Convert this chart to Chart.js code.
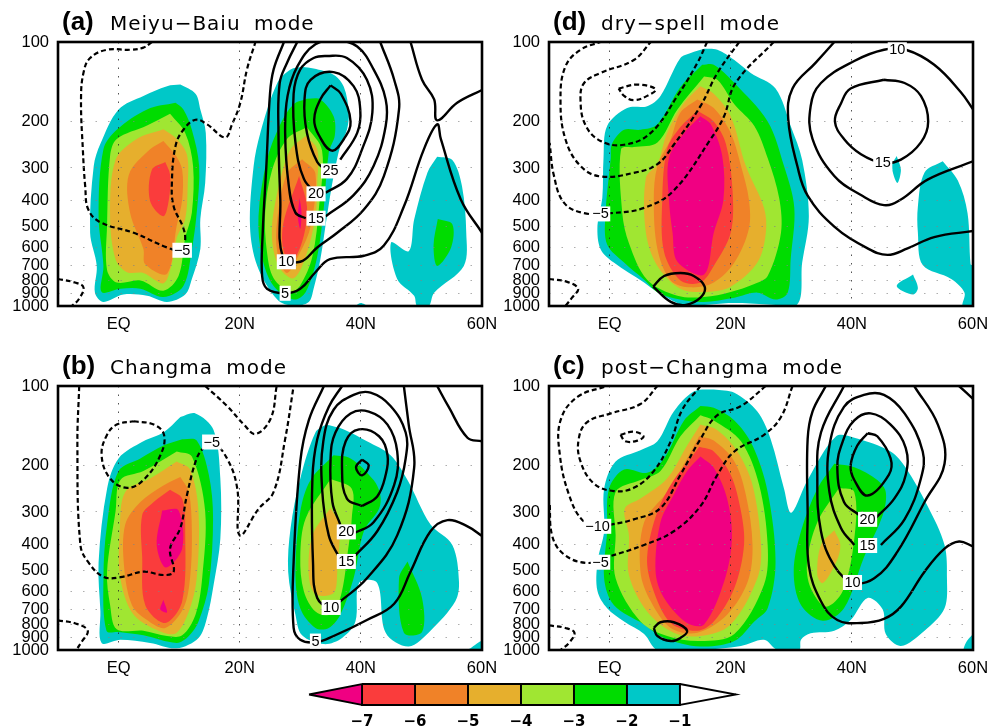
<!DOCTYPE html>
<html><head><meta charset="utf-8">
<script src="https://cdn.jsdelivr.net/npm/chart.js@4"></script>
<style>html,body{margin:0;padding:0;background:#fff;width:1002px;height:727px;overflow:hidden}canvas{position:absolute}</style>
</head><body>
<canvas id="pa" width="500" height="340" style="left:0;top:0"></canvas>
<canvas id="pd" width="500" height="340" style="left:491px;top:0"></canvas>
<canvas id="pb" width="500" height="340" style="left:0;top:344px"></canvas>
<canvas id="pc" width="500" height="340" style="left:491px;top:344px"></canvas>
<canvas id="bar" width="460" height="57" style="left:290px;top:670px"></canvas>
<script>
// Axis ticks
const lonTicks=[0,20,40,60];
const lonLabels=['EQ','20N','40N','60N'];
const presTicks=[100,200,300,400,500,600,700,800,900,1000];
// Colour scale
const barLevels=[-7,-6,-5,-4,-3,-2,-1];
const barTips=[-8,0.06];
const barLabels=['−7','−6','−5','−4','−3','−2','−1'];
const MAG='#f00082',RED='#fa3c3c',ORA='#f08228',GOL='#e6af2d',LIM='#a0e632',GRN='#00dc00',TEA='#00c8c8';
const barColors=[MAG,RED,ORA,GOL,LIM,GRN,TEA,'#ffffff'];

// Panel (a): [lon, hPa]
const aTeal1=[[10.2,145],[12.7,157],[13.5,180],[14.4,221],[14.3,342],[13.5,468],[13.5,608],[12.1,790],[11,905],[8,965],[4.7,915],[.8,905],[-2.5,965],[-3.9,890],[-3.6,705],[-4.7,528],[-4.1,295],[-3,243],[0,180],[4.1,160],[8,147]];
const aGreen1=[[9.4,170],[10.7,180],[12.1,215],[13.3,295],[12.9,443],[12.1,608],[10.7,840],[7.4,925],[3.6,860],[.3,860],[-2.8,885],[-2.5,705],[-3.3,457],[-2.5,255],[-.3,215],[4.7,180]];
const aLime1=[[8.5,187],[11,221],[12.3,295],[12.1,443],[11,552],[9.9,770],[7.4,875],[3.6,800],[-.3,815],[-1.9,730],[-1.9,495],[-1.4,270],[-.3,233],[4.7,207]];
const aGold1=[[7.4,214],[9.6,233],[11.3,268],[11.4,355],[11,468],[9.6,552],[8.8,690],[7.4,820],[4.1,750],[1.4,745],[-.5,665],[-1.4,457],[-.5,280],[3,233]];
const aOrange1=[[7.4,237],[9.4,268],[10.5,305],[10.5,396],[9.6,497],[8,755],[4.4,695],[4.1,608],[1.9,443],[1.7,318],[5.2,255]];
const aRed1=[[7.7,285],[8.5,318],[8.3,396],[7.4,457],[5.2,400],[5.5,305]];
const aTeal2=[[30.3,124],[32.2,126],[35.5,133],[37.2,148],[38,185],[37.7,215],[36.6,248],[35.5,322],[34.4,457],[33.3,668],[32.2,860],[31.4,965],[28.9,1000],[26.2,945],[22.9,705],[21.7,500],[22.3,295],[23.4,221],[26.2,143],[28.4,127]];
const aGreen2=[[31.1,164],[33.3,165],[35.5,191],[35.7,226],[34.7,262],[33.9,420],[32.8,650],[30.9,885],[28.9,945],[25.6,840],[23.7,655],[23.1,457],[24.5,280],[26.7,205],[28.9,172]];
const aLime2=[[31.1,210],[33.6,258],[33.1,420],[32,650],[30,835],[28.4,885],[25.6,785],[24.5,625],[24.2,443],[25.3,308],[27.8,233]];
const aGold2=[[30.9,227],[32.8,255],[32.8,342],[32.5,457],[30.9,650],[28.9,785],[26.4,705],[25.3,528],[26.4,355],[28.4,255]];
const aOrange2=[[30.3,278],[32.5,315],[31.7,500],[30,625],[27.8,750],[26.2,625],[26.2,470],[27.8,315]];
const aRed2=[[29.8,322],[31.1,420],[30.6,540],[28.9,665],[27.3,625],[27.2,487]];
const aMag2=[[29.9,390],[30.2,443],[30,510],[29.6,457]];
const aTeal3=[[52.6,272],[55.1,280],[56.7,352],[57.4,528],[57,705],[52.1,890],[51.2,1000],[49.3,1000],[48.8,915],[46,790],[45,575],[47.9,620],[48.8,470],[51,312]];
const aGreen3=[[52.7,468],[55.1,490],[54.9,600],[52.6,705],[52,590]];
const aTeal4=[[39.1,1000],[40,975],[40.9,1000]];
const aNeg5=[[5.5,100],[4.1,105],[1.9,107],[-1.9,107],[-4.7,115],[-5.8,131],[-6.2,165],[-5.9,255],[-5.5,354],[-5,431],[-3,482],[2.5,528],[8,600],[10.5,615],[11,558],[10.6,500],[9.1,420],[8.8,342],[9.4,248],[10.7,215],[12.7,197],[14.6,205],[17.6,230],[18.7,206],[20.1,170],[21.2,127],[22.6,100]];
const aNegCorner=[[-10,790],[-7.2,815],[-5.8,850],[-6.6,945],[-7.7,1000]];
const aPos5=[[27.3,100],[25.6,127],[25,157],[24.4,295],[23.8,528],[23.7,770],[24.5,860],[27.5,895],[30,860],[32.5,745],[34.9,665],[40.5,645],[43.8,590],[47.1,420],[50.4,255],[52.6,205],[53.2,233],[56.5,395],[60,528]];
const aPos5b=[[48.2,100],[50.1,139],[52.1,165],[52.6,198],[55.9,170],[60,152]];
const aPos10=[[29.5,100],[27.8,120],[26.6,143],[26.4,221],[26.7,395],[27.1,650],[30,680],[32.8,600],[36.1,528],[40.5,431],[43.8,322],[46.3,180],[45.5,139],[43.2,100]];
const aPos15=[[30.9,465],[29.2,443],[28.1,350],[27.5,221],[27.9,160],[29.5,124],[32.5,102],[36.1,99],[39.4,104],[42.1,127],[44.1,165],[44.1,208],[42.1,295],[38.8,380],[34.2,457]];
const aPos20=[[32.8,378],[30.6,330],[29.2,240],[28.9,157],[30,127],[32.2,115],[34.4,113],[37.7,115],[41,139],[41.9,185],[40.2,255],[37.7,330],[34.2,372]];
const aPos25=[[34.2,305],[32.8,285],[31.1,221],[30.7,165],[31.7,139],[35.5,130],[38.8,147],[39.9,180],[39.4,221],[36.6,279]];
const aPos30=[[35,146],[36.7,157],[38.3,200],[37.2,233],[35.2,258],[33.1,226],[32.3,197],[33.3,165],[35,146]];
const aLabels=[['−5',10.5,615],['25',35,308],['20',32.6,376],['15',32.6,465],['10',27.7,680],['5',27.5,895]];

// Panel (d)
const dTeal1=[[15.6,106],[17.8,107],[20.6,117],[23.3,131],[27.4,150],[29.9,208],[31.8,280],[32.9,457],[31.8,685],[30.7,1000],[20.6,975],[12.8,1000],[7.9,885],[5.7,815],[.7,685],[-1.5,608],[-2,495],[-1.2,390],[-1,275],[-.4,208],[2.9,178],[6.2,175],[8.4,160],[11.7,115],[13.4,110]];
const dGreen1=[[15.3,122],[17.2,122],[20.6,143],[26.1,200],[28.8,295],[30.5,425],[29.9,665],[29.4,890],[27.4,945],[24.4,890],[20.6,930],[15,965],[8.4,900],[5.7,795],[2.4,685],[-.4,585],[-.7,457],[.2,275],[.4,243],[2.4,215],[5.1,215],[7.9,205],[11.7,148]];
const dLime1=[[15.6,135],[17.8,139],[20.6,172],[23.9,208],[26.1,275],[28,390],[28.3,528],[26.1,770],[23.9,825],[20,885],[15.6,925],[11.2,915],[6.2,795],[3.2,578],[2.1,445],[1.9,255],[4,250],[7.9,240],[11.2,180]];
const dGold1=[[15,147],[17.2,157],[20,191],[22.5,295],[25.5,425],[25.8,528],[24.4,685],[20,845],[15.6,885],[11.7,860],[7.9,705],[6,528],[6,327],[7.9,290],[9.5,221],[12.3,170]];
const dOrange1=[[14.5,165],[17.2,178],[20,221],[21.7,295],[23,395],[23,510],[20.6,685],[17.2,815],[13.4,850],[10.1,800],[7.9,608],[7.3,395],[7.9,295],[10.1,233],[11.7,185]];
const dRed1=[[14.5,182],[17.2,200],[19.2,243],[20.3,365],[20,528],[17.2,705],[15,815],[11.7,800],[9,625],[8.7,395],[9.5,255],[11.7,210]];
const dMag1=[[15,191],[16.7,205],[18.6,270],[18.8,395],[17.2,528],[15.6,760],[11.2,680],[10.4,528],[9.8,395],[9.8,275],[12.3,221]];
const dTeal2=[[55,283],[57.5,335],[59.1,445],[59.6,695],[60,705],[60,1000],[58.3,1000],[58.6,890],[56.4,790],[51.7,700],[50.9,528],[50.9,420],[52,312]];
const dTeal3=[[47.4,270],[48.1,305],[47.5,342],[46.6,295]];
const dTeal4=[[50.1,760],[50.9,855],[50.1,905],[47.4,840]];
const dNegA=[[16.1,100],[14.5,120],[11.2,160],[6.8,221],[2.4,245],[-1.5,237],[-4,206],[-4.8,165],[-4.2,143],[-1.5,131],[4,117],[6.8,100]];
const dNegB=[[21.4,100],[17.8,131],[15,175],[10.6,245],[7.9,290],[4,313],[-1.5,323],[-4.8,295],[-7.3,233],[-8.1,165],[-7.3,124],[-4.8,107],[-1.5,100]];
const dNeg5=[[27.1,100],[20.8,143],[18.9,191],[16.7,233],[10.6,365],[5.7,425],[.2,445],[-4.2,445],[-7.5,407],[-9.2,320],[-9.9,241]];
const dNegSmall=[[1.5,150],[4.6,145],[7.6,151],[6.2,160],[4,166],[2.4,160],[1.5,150]];
const dNegCorner=[[-10,790],[-7,810],[-5.2,860],[-6.2,930],[-7.3,1000]];
const dPosLoop=[[7.2,845],[9,770],[11.7,750],[13.9,770],[15.7,845],[15,930],[12.6,990],[10.1,965],[7.2,845]];
const dPos5=[[37.1,100],[34,120],[30.2,150],[29.5,196],[31,295],[32.7,382],[37.1,500],[42.6,605],[45.9,640],[49.2,605],[53.6,548],[60,520]];
const dPos10=[[60,180],[58,155],[53.6,122],[48.9,107],[45.3,107],[40.4,118],[34.9,143],[33.2,175],[33.5,233],[37.1,322],[41.5,380],[45.3,415],[48.1,395],[52.5,332],[60,283]];
const dPos15=[[45.3,139],[48.7,143],[51.4,160],[52.6,200],[51.4,240],[48.1,279],[45.1,287],[41.5,266],[38.7,233],[37.2,200],[38.2,171],[39.8,150],[45.3,139]];
const dLabels=[['10',47.5,107],['15',45.1,287],['−5',-1.5,448]];

// Panel (b)
const bTeal1=[[10.2,131],[12.7,127],[15.7,147],[16.8,224],[16.8,380],[15.7,565],[14.6,755],[13.2,900],[9.6,985],[5.2,940],[.3,915],[-2.8,940],[-3,715],[-3.3,465],[-1.9,245],[0,188],[4.1,162],[7.4,150]];
const bGreen1=[[10.5,159],[12.9,161],[14.9,217],[15.6,317],[14.9,565],[13.2,780],[11.6,885],[9.6,940],[4.1,880],[0,855],[-2,845],[-2.5,535],[-1.9,335],[0,210],[3.6,188],[7.4,168]];
const bLime1=[[9.6,177],[12.1,185],[14.3,299],[13.8,535],[12.7,735],[10.5,880],[8,885],[4.1,845],[-.3,835],[-1.4,675],[-1.9,505],[-.5,299],[.3,227],[4.1,210]];
const bGold1=[[9.6,193],[11.8,207],[13.2,299],[12.9,535],[11.6,715],[9.6,860],[7.4,860],[2.5,735],[.3,535],[.2,355],[1.1,252],[5.2,224]];
const bOrange1=[[10.2,221],[11.6,252],[12.1,355],[11.8,535],[10.7,695],[7.7,825],[4.7,770],[2.2,675],[.9,480],[1.1,335],[3.6,275],[7.4,238]];
const bRed1=[[8.5,247],[10.5,267],[11,355],[10.5,654],[7.7,790],[4.4,675],[3.9,445],[3.9,308],[5.8,275]];
const bMag1=[[7.2,296],[9.9,296],[10.5,413],[7.8,487],[6.3,400]];
const bMag1b=[[7.4,645],[8,720],[6.9,703]];
const bTeal2=[[34.2,140],[37.2,146],[41,162],[44.9,183],[47.7,227],[51.5,335],[55.1,400],[56.2,552],[55.6,654],[51.5,845],[47.9,970],[44.1,860],[42.7,557],[39.7,557],[39.1,780],[36.9,900],[33.9,950],[30.3,880],[29.2,735],[28,505],[28.4,345],[30,224],[32.5,150]];
const bGreen2=[[35.5,183],[38.3,188],[42.1,227],[43.2,258],[43,292],[40.5,355],[38.8,535],[36.6,735],[34.7,825],[32.5,825],[30,695],[29.2,505],[30,299],[31.7,227]];
const bLime2=[[35,225],[38.5,245],[38.5,317],[38,400],[36.6,635],[34.7,735],[32.5,715],[30.6,600],[30,445],[30.9,317]];
const bGold2=[[35,290],[36.4,335],[36.1,505],[35.5,608],[32.5,615],[31.4,520],[32,368]];
const bGreen3=[[47.7,462],[50.1,635],[50.1,855],[47.1,860],[46.3,535]];
const bTeal3=[[58.1,985],[60,925],[60,1000],[57.6,1000]];
const bNeg5=[[-6.5,100],[-6.8,168],[-6.3,400],[-5,465],[-2.5,528],[.3,530],[4.1,505],[7.4,520],[9.1,505],[8.5,413],[10.2,345],[11.3,258],[12.9,188],[14,172],[15.4,163],[17.9,188],[19.6,245],[20,368],[23.1,292],[25.6,252],[27.5,159],[28.9,100]];
const bNegTop=[[14.3,100],[17.9,119],[20.7,140],[22.6,152],[25.1,133],[26.1,100]];
const bNegLoop=[[2.5,136],[5.8,140],[7.5,153],[6.9,183],[4.1,227],[1.4,243],[-1.4,224],[-2.8,183],[-1.9,153],[-.3,140],[2.5,136]];
const bNegCorner=[[-10,772],[-7,795],[-5.1,845],[-6,925],[-7,1000]];
const bPos5=[[33.9,100],[31.4,135],[30,193],[28.9,465],[28.9,825],[30,915],[32.5,935],[35.5,885],[41,770],[45.5,668],[48.2,505],[51.5,355],[54.3,322],[57.6,340],[60,370]];
const bPos10=[[36.9,100],[34.7,120],[32.8,159],[32,224],[32.1,465],[32.8,635],[35.1,690],[36.6,654],[41,535],[46,368],[48.8,204],[47.9,140],[47.1,100]];
const bPos15=[[36.4,445],[34.7,368],[33.6,245],[33.8,162],[35.5,123],[38.8,108],[41.6,106],[44.9,119],[47.4,150],[47.4,188],[46,252],[42.7,355],[38.8,445]];
const bPos20=[[36.6,335],[35.3,275],[35,188],[35.8,150],[38.3,127],[41.3,125],[44.4,140],[46,177],[45.5,237],[42.1,328],[38.8,362]];
const bPos25=[[40.2,285],[42.7,262],[44.1,217],[44.4,183],[43,155],[39.7,146],[37.5,162],[36.9,210],[37.7,267],[40.2,285]];
const bPos30=[[40.2,190],[41.3,200],[40.2,218],[39.2,203],[40.2,190]];
const bPosCorner=[[52.6,100],[54.5,120],[57.6,157],[60,162]];
const bLabels=[['−5',15.4,163],['20',37.6,357],['15',37.6,462],['10',35.1,690],['5',32.5,925]];

// Panel (c)
const cTeal1=[[17.2,103],[20.6,106],[24.4,125],[26.6,159],[28.8,245],[30,302],[32.7,227],[37.4,155],[40.4,157],[46.4,177],[48.9,204],[52.5,285],[55.3,400],[55.7,535],[55.3,695],[52,845],[48.1,965],[45.6,870],[45.1,703],[42.6,635],[39.8,770],[37.1,845],[33.2,865],[31.6,915],[31.3,1000],[27.7,1000],[25.5,915],[21.7,965],[15,1000],[7.9,1000],[5.7,870],[2.4,780],[-.4,695],[-2,598],[-2,465],[-.9,355],[-.9,245],[1,193],[5.1,175],[7.9,162],[10.6,125],[13.9,105]];
const cTeal2=[[60,870],[59,925],[58.5,1000],[60,1000]];
const cGreen1=[[15,119],[17.2,121],[20.6,135],[23.6,168],[26.1,252],[27.4,465],[26.1,695],[23.9,780],[20.6,925],[15,970],[9,900],[5.7,800],[.7,675],[-.9,535],[-.4,355],[-.1,245],[2.4,207],[6.2,213],[9,188],[12.3,135]];
const cLime1=[[15,129],[17.2,135],[21.7,162],[24.7,237],[26.1,400],[25.5,565],[20.6,870],[15,925],[9.5,885],[5.1,780],[1,535],[1,368],[1,252],[5.1,227],[8.4,210],[11.7,155]];
const cGold1=[[15,140],[17.8,147],[21.1,177],[23.6,237],[25,400],[24.4,535],[20,800],[15,885],[10.6,860],[6.2,715],[3.2,520],[3.2,368],[2.5,292],[5.1,267],[9.5,224],[12.8,168]];
const cOrange1=[[14.8,155],[17.2,161],[20.6,193],[22.5,258],[23.6,400],[22.8,552],[19.4,735],[14.5,860],[10.1,825],[6.8,654],[5.1,505],[5.7,328],[9.5,252],[12.8,188]];
const cRed1=[[14.8,170],[17.2,177],[20,217],[21.7,299],[22.2,400],[20.6,582],[17.2,780],[14.5,845],[10.1,790],[7.1,582],[6.2,445],[7.9,299],[10.6,227],[13.4,188]];
const cMag1=[[15,185],[17.2,204],[19.4,267],[20.2,380],[18.9,552],[15.6,800],[12.8,790],[9,635],[7.6,505],[8.4,328],[10.6,258],[12.8,210]];
const cGreen2=[[37.1,197],[40.4,203],[44.2,227],[45.6,252],[45.1,308],[42,445],[38.7,695],[35.2,775],[31.6,675],[30.4,505],[31.6,355],[34.3,245]];
const cLime2=[[37.9,243],[40.4,252],[40.4,380],[38.5,598],[35.7,685],[33.2,582],[32.6,465],[34.3,328]];
const cGold2=[[37.1,352],[38.1,400],[37.4,465],[35.2,558],[34.3,520],[34.9,400]];
const cNegA=[[15,100],[12,123],[10.1,162],[7.3,210],[4,243],[.7,250],[-2.6,234],[-4.8,193],[-5.1,159],[-3.7,137],[.2,127],[5.1,117],[7.9,100]];
const cNeg10=[[25.8,100],[21.7,119],[17.8,129],[15,159],[11.7,217],[8.4,290],[4,320],[.2,335],[-2,340],[-4.5,322],[-6.7,258],[-8.2,183],[-8.1,135],[-5.3,110],[-.4,100]];
const cNeg5=[[30.2,100],[28.3,131],[25.5,153],[20.6,177],[17.8,217],[15,285],[10.6,355],[5.7,400],[-.4,445],[-3.7,468],[-7.5,435],[-9.5,368],[-9.9,275]];
const cNegSmall=[[1.8,153],[4,149],[5.6,155],[4.6,161],[2.6,162],[1.8,153]];
const cNegCorner=[[-10,807],[-7.3,825],[-5.8,860],[-6.7,940],[-8.1,1000]];
const cPosLoop=[[7.3,825],[8.4,785],[10.6,785],[12.8,845],[11.7,900],[10.1,925],[7.9,885],[7.3,825]];
const cPos5=[[35.7,100],[33.5,125],[32.7,159],[32.7,299],[32.9,480],[34.9,654],[37.6,770],[41.5,790],[45.3,762],[48.1,685],[52,505],[55.3,413],[57.7,388],[60,405]];
const cPos10=[[38.7,100],[34.9,150],[34.3,224],[34.9,355],[37.1,480],[40.1,555],[43.7,535],[47.5,425],[52,275],[55.3,197],[54.2,140],[50.3,100]];
const cPos15=[[40.4,400],[38.2,345],[36.3,252],[36.3,168],[38.7,120],[42,108],[45.3,108],[48.7,127],[51.7,177],[51.4,224],[48.7,320],[44.8,400]];
const cPos20=[[41.2,308],[38.7,275],[37.6,204],[38.5,162],[40.4,135],[43.1,127],[46.4,140],[48.9,172],[48.9,217],[47,267],[44,315]];
const cPos25=[[42.6,151],[44.2,155],[46.4,188],[46.1,217],[42.6,260],[40.4,227],[39.8,200],[40.9,168],[42.6,151]];
const cPosCorner=[[57.7,100],[60,112]];
const cLabels=[['−10',-2,340],['−5',-1.5,465],['20',42.6,320],['15',42.6,402],['10',40.1,555]];

const panels=[
 {id:'pa',tag:'(a)',title:'Meiyu−Baiu mode',labels:aLabels,
  shades:[[TEA,aTeal1],[GRN,aGreen1],[LIM,aLime1],[GOL,aGold1],[ORA,aOrange1],[RED,aRed1],[TEA,aTeal2],[GRN,aGreen2],[LIM,aLime2],[GOL,aGold2],[ORA,aOrange2],[RED,aRed2],[MAG,aMag2],[TEA,aTeal3],[GRN,aGreen3],[TEA,aTeal4]],
  solid:[aPos5,aPos5b,aPos10,aPos15,aPos20,aPos25,aPos30],dashed:[aNeg5,aNegCorner]},
 {id:'pd',tag:'(d)',title:'dry−spell mode',labels:dLabels,
  shades:[[TEA,dTeal1],[GRN,dGreen1],[LIM,dLime1],[GOL,dGold1],[ORA,dOrange1],[RED,dRed1],[MAG,dMag1],[TEA,dTeal2],[TEA,dTeal3],[TEA,dTeal4]],
  solid:[dPosLoop,dPos5,dPos10,dPos15],dashed:[dNegA,dNegB,dNeg5,dNegSmall,dNegCorner]},
 {id:'pb',tag:'(b)',title:'Changma mode',labels:bLabels,
  shades:[[TEA,bTeal1],[GRN,bGreen1],[LIM,bLime1],[GOL,bGold1],[ORA,bOrange1],[RED,bRed1],[MAG,bMag1],[MAG,bMag1b],[TEA,bTeal2],[GRN,bGreen2],[LIM,bLime2],[GOL,bGold2],[GRN,bGreen3],[TEA,bTeal3]],
  solid:[bPos5,bPos10,bPos15,bPos20,bPos25,bPos30,bPosCorner],dashed:[bNeg5,bNegTop,bNegLoop,bNegCorner]},
 {id:'pc',tag:'(c)',title:'post−Changma mode',labels:cLabels,
  shades:[[TEA,cTeal1],[TEA,cTeal2],[GRN,cGreen1],[LIM,cLime1],[GOL,cGold1],[ORA,cOrange1],[RED,cRed1],[MAG,cMag1],[GRN,cGreen2],[LIM,cLime2],[GOL,cGold2]],
  solid:[cPosLoop,cPos5,cPos10,cPos15,cPos20,cPos25,cPosCorner],dashed:[cNegA,cNeg10,cNeg5,cNegSmall,cNegCorner]}
];

const toXY=pts=>pts.map(([x,y])=>({x,y}));
function overlay(p){return{id:'overlay_'+p.id,afterDraw(ch){
  const c=ch.ctx,a=ch.chartArea,X=ch.scales.x,Y=ch.scales.y;
  c.save();
  c.strokeStyle='#000';c.lineWidth=2.6;c.setLineDash([]);
  c.strokeRect(a.left,a.top,a.right-a.left,a.bottom-a.top);
  c.font='14.5px "Liberation Sans"';c.textAlign='center';c.textBaseline='middle';
  p.labels.forEach(([t,lon,pr])=>{
    const x=X.getPixelForValue(lon),y=Y.getPixelForValue(pr),w=c.measureText(t).width+3;
    c.fillStyle='#fff';c.fillRect(x-w/2,y-7.5,w,15);
    c.fillStyle='#000';c.fillText(t,x,y+.5);
  });
  c.textAlign='left';c.textBaseline='alphabetic';c.fillStyle='#000';
  c.font='bold 26px "Liberation Sans"';c.fillText(p.tag,62,30);
  c.font='20px "DejaVu Sans"';c.letterSpacing='1px';c.wordSpacing='6px';
  c.fillText(p.title,110,30);
  c.restore();
}}}

Chart.defaults.font.family='"Liberation Sans"';
Chart.defaults.color='#000';

panels.forEach(p=>{
  const ds=[];
  p.shades.forEach(([col,pts])=>ds.push({data:toXY(pts.concat([pts[0]])),showLine:true,fill:'shape',backgroundColor:col,borderWidth:0,borderColor:col,tension:.33,pointRadius:0}));
  p.solid.forEach(pts=>ds.push({data:toXY(pts),showLine:true,fill:false,borderColor:'#000',borderWidth:2.4,tension:.4,pointRadius:0}));
  p.dashed.forEach(pts=>ds.push({data:toXY(pts),showLine:true,fill:false,borderColor:'#000',borderWidth:2.2,borderDash:[5,3],tension:.4,pointRadius:0}));
  ds.forEach((d,i)=>d.order=ds.length-i);
  new Chart(document.getElementById(p.id),{type:'scatter',data:{datasets:ds},plugins:[overlay(p)],options:{
    responsive:false,animation:false,events:[],
    layout:{padding:{top:42,right:18,left:0,bottom:0}},
    plugins:{legend:{display:false},tooltip:{enabled:false},title:{display:false}},
    scales:{
      x:{type:'linear',min:-10,max:60,
        afterBuildTicks(s){s.ticks=lonTicks.map(value=>({value}))},
        afterFit(s){s.height=34;s.paddingRight=0;s.paddingLeft=0},
        ticks:{autoSkip:false,maxRotation:0,padding:9,font:{size:16.5},callback:v=>lonLabels[lonTicks.indexOf(v)]},
        grid:{z:1,drawTicks:false,color:'rgba(40,40,40,.8)',lineWidth:1},
        border:{display:false,dash:[1.5,7]}},
      y:{type:'logarithmic',reverse:true,min:100,max:1000,
        afterBuildTicks(s){s.ticks=presTicks.map(value=>({value}))},
        afterFit(s){s.width=58},
        ticks:{autoSkip:false,padding:9,font:{size:16.5},callback:v=>String(v)},
        grid:{z:1,drawTicks:false,color:'rgba(130,130,130,.65)',lineWidth:1},
        border:{display:false,dash:[1.5,11]}}
    }}});
});

// Colour bar
const edges=[barTips[0],...barLevels,barTips[1]];
const barSets=barColors.map((col,i)=>{
  const lo=edges[i],hi=edges[i+1];
  const pts=i===0?[[lo,0],[hi,1],[hi,-1],[lo,0]]:i===barColors.length-1?[[lo,1],[hi,0],[lo,-1],[lo,1]]:[[lo,1],[hi,1],[hi,-1],[lo,-1],[lo,1]];
  return{data:toXY(pts),showLine:true,fill:'shape',backgroundColor:col,borderColor:'#000',borderWidth:1.8,tension:0,pointRadius:0,clip:false};
});
new Chart(document.getElementById('bar'),{type:'scatter',data:{datasets:barSets},options:{
  responsive:false,animation:false,events:[],
  layout:{padding:{top:14,right:14,left:19,bottom:0}},
  plugins:{legend:{display:false},tooltip:{enabled:false}},
  scales:{
    x:{type:'linear',min:barTips[0],max:barTips[1],
      afterBuildTicks(s){s.ticks=barLevels.map(value=>({value}))},
      afterFit(s){s.height=22},
      ticks:{autoSkip:false,maxRotation:0,padding:8,font:{family:'"DejaVu Sans"',size:15,weight:'bold'},callback:v=>barLabels[barLevels.indexOf(v)]},
      grid:{display:false,drawTicks:false},border:{display:false}},
    y:{type:'linear',min:-1,max:1,display:false}
  }}});
</script>
</body></html>
